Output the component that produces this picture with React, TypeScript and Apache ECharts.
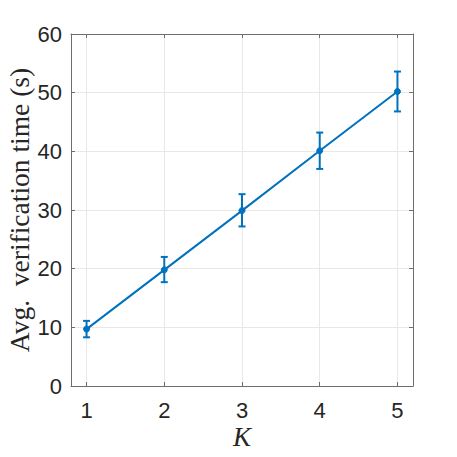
import React, { useEffect, useRef } from "react";
import * as echarts from "echarts";

const kValues = [1, 2, 3, 4, 5];
const meanTime = [9.7, 19.8, 29.9, 40.1, 50.2];
const lowTime = [8.3, 17.7, 27.2, 37.0, 46.8];
const highTime = [11.1, 22.0, 32.7, 43.2, 53.6];
const yTicks = [0, 10, 20, 30, 40, 50, 60];

const BLUE = "#0072BD";
const AXIS = "#6e6e6e";
const GRID = "#e8e8e8";
const TXT = "#262626";

export default function App() {
  const ref = useRef<HTMLDivElement>(null);
  useEffect(() => {
    if (!ref.current) return;
    const chart = echarts.init(ref.current, undefined, { renderer: "svg" });
    const lineData = kValues.map((k, i) => [k, meanTime[i]]);
    const errData = kValues.map((k, i) => [k, lowTime[i], highTime[i]]);
    const baseX = {
      type: "value",
      min: 0.8,
      max: 5.2,
      axisLine: { show: true, onZero: false, lineStyle: { color: AXIS, width: 1 } },
      axisTick: { show: true, inside: true, length: 4, customValues: kValues, lineStyle: { color: AXIS } },
      splitLine: { show: false },
      axisLabel: { show: false },
    };
    const baseY = {
      type: "value",
      min: 0,
      max: 60,
      interval: 10,
      axisLine: { show: true, onZero: false, lineStyle: { color: AXIS, width: 1 } },
      axisTick: { show: true, inside: true, length: 4, lineStyle: { color: AXIS } },
      splitLine: { show: false },
      axisLabel: { show: false },
    };
    chart.setOption({
      animation: false,
      grid: { left: 71, top: 34, right: 44, bottom: 71, containLabel: false },
      xAxis: [
        {
          ...baseX,
          position: "bottom",
          splitLine: { show: true, lineStyle: { color: GRID, width: 1 } },
          axisLabel: {
            show: true,
            customValues: kValues,
            color: TXT,
            fontSize: 22,
            fontFamily: "Liberation Sans, Arial, sans-serif",
            margin: 13,
          },
        },
        { ...baseX, position: "top" },
      ],
      yAxis: [
        {
          ...baseY,
          position: "left",
          splitLine: { show: true, lineStyle: { color: GRID, width: 1 } },
          axisLabel: {
            show: true,
            color: TXT,
            fontSize: 22,
            fontFamily: "Liberation Sans, Arial, sans-serif",
            margin: 9,
            formatter: (v: number) => (yTicks.includes(v) ? String(v) : ""),
          },
        },
        { ...baseY, position: "right" },
      ],
      series: [
        {
          type: "custom",
          xAxisIndex: 0,
          yAxisIndex: 0,
          data: errData,
          z: 3,
          renderItem: (params: any, api: any) => {
            const x = api.value(0);
            const lo = api.coord([x, api.value(1)]);
            const hi = api.coord([x, api.value(2)]);
            const hw = 3.5;
            const style = { stroke: BLUE, lineWidth: 2, fill: "none" };
            return {
              type: "group",
              children: [
                { type: "line", shape: { x1: lo[0], y1: lo[1], x2: hi[0], y2: hi[1] }, style },
                { type: "line", shape: { x1: lo[0] - hw, y1: lo[1], x2: lo[0] + hw, y2: lo[1] }, style },
                { type: "line", shape: { x1: hi[0] - hw, y1: hi[1], x2: hi[0] + hw, y2: hi[1] }, style },
              ],
            };
          },
        },
        {
          type: "line",
          xAxisIndex: 0,
          yAxisIndex: 0,
          data: lineData,
          z: 4,
          symbol: "circle",
          symbolSize: 6,
          showSymbol: true,
          lineStyle: { color: BLUE, width: 2 },
          itemStyle: { color: BLUE, borderColor: BLUE, borderWidth: 1 },
        },
      ],
      graphic: [
        {
          type: "text",
          x: 19,
          y: 210,
          rotation: Math.PI / 2,
          style: {
            text: "Avg.  verification time (s)",
            fontSize: 27.5,
            fontFamily: "Liberation Serif, Times New Roman, serif",
            fill: TXT,
            align: "center",
            verticalAlign: "middle",
          },
        },
        {
          type: "text",
          x: 242,
          y: 437,
          style: {
            text: "K",
            fontSize: 27,
            fontStyle: "italic",
            fontFamily: "Liberation Serif, Times New Roman, serif",
            fill: TXT,
            align: "center",
            verticalAlign: "middle",
          },
        },
      ],
    });
    return () => chart.dispose();
  }, []);
  return <div ref={ref} style={{ width: 457, height: 457, position: "absolute", left: 0, top: 0 }} />;
}
